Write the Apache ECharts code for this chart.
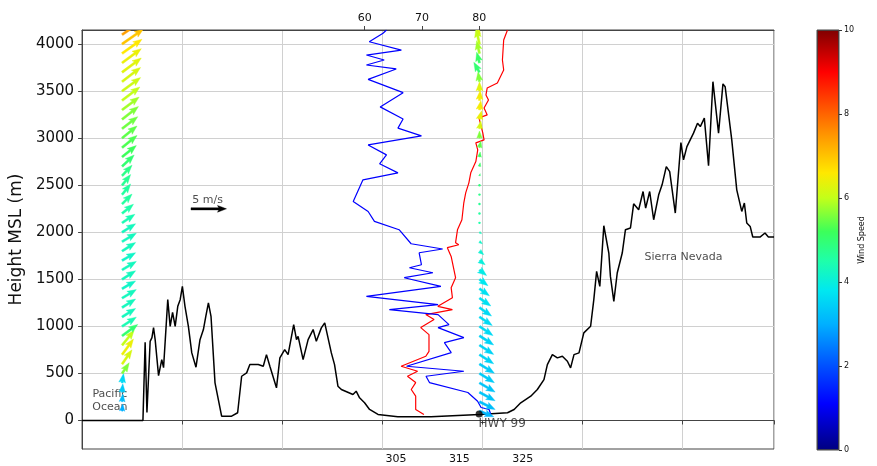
<!DOCTYPE html>
<html>
<head>
<meta charset="utf-8">
<title>Cross-section with soundings</title>
<script src="https://cdn.jsdelivr.net/npm/echarts@6/dist/echarts.min.js"></script>
<style>
  html, body { margin: 0; padding: 0; background: #fff; }
  #chart { width: 877px; height: 466px; }
</style>
</head>
<body>
<div id="chart"></div>
<script>
const FONT = 'DejaVu Sans';
const PX_PER_MS = 7.1;

// terrain profile: distance along section (km) and elevation (m)
const terrainDist = [0,30.4,31.0,31.5,32.4,34.0,34.9,35.7,36.5,38.2,
  39.8,40.7,42.8,44.0,45.2,46.5,47.8,49.0,50.1,51.4,
  53.1,54.8,56.9,58.9,60.6,61.8,63.1,64.4,66.4,69.7,
  74.7,77.7,79.7,82.2,83.8,88.0,90.5,92.1,93.8,97.1,
  98.8,101.2,102.9,105.7,107.1,107.9,110.4,112.9,115.4,117.0,
  119.5,121.2,124.5,126.1,127.8,129.5,135.3,136.9,138.6,141.1,
  143.6,147.8,157.7,174.3,198.4,212.5,215.8,219.1,224.1,227.4,
  230.7,232.4,234.9,237.4,239.9,242.4,244.0,245.7,248.2,250.6,
  254.0,255.6,257.0,258.6,260.6,263.1,263.9,265.6,267.3,269.8,
  271.4,273.9,275.5,278.0,280.2,281.5,283.5,285.5,288.0,289.7,
  291.8,293.5,296.3,299.1,300.4,302.1,305.4,307.4,308.8,310.8,
  312.9,315.1,317.9,320.1,321.2,324.5,327.0,329.5,330.8,332.0,
  333.7,335.0,338.6,341.1,342.8,345.6];
const terrainElev = [0,0,3,831,85,841,881,987,859,477,
  647,562,1284,1000,1149,1000,1213,1284,1425,1213,
  1000,718,566,859,966,1107,1249,1107,400,46,
  46,82,470,506,594,594,576,700,576,347,
  665,753,700,1019,859,894,647,859,966,841,
  984,1037,718,594,364,329,276,311,241,188,
  117,64,39,39,64,82,117,188,258,329,
  435,594,700,665,682,629,559,700,718,931,
  1001,1284,1584,1425,2069,1779,1531,1266,1567,1779,
  2027,2045,2302,2239,2433,2257,2433,2133,2398,2504,
  2698,2645,2204,2953,2769,2910,3053,3159,3123,3212,
  2706,3600,3053,3576,3547,2981,2451,2221,2310,2098,
  2062,1949,1949,1992,1949,1949];

// sounding: potential temperature (K) vs height (m)
const thetaHeight = [4149,4042,3830,3724,3586,3533,3459,3406,3321,3247,
  3215,3056,2981,2950,2875,2751,2631,2525,2419,2313,
  2133,2026,1889,1867,1836,1743,1517,1411,1305,1213,
  1178,1125,1072,987,912,735,682,576,523,470,
  403,329,258,117,64];
const thetaK = [322.6,322.0,321.8,322.0,321.0,319.4,319.2,319.6,318.9,319.4,
  318.1,318.7,318.9,317.6,317.9,317.6,316.8,316.5,316.0,315.7,
  315.4,314.7,314.4,314.9,313.1,313.7,314.4,313.7,313.9,311.6,
  313.9,309.7,311.0,308.9,310.2,310.2,309.7,305.8,308.4,306.8,
  308.1,307.4,308.1,308.1,309.4];

// sounding: relative humidity (%) vs height (m)
const rhHeight = [4149,4114,4024,3936,3918,3883,3830,3777,3735,3625,
  3483,3332,3204,3106,3024,2928,2822,2727,2631,2557,
  2327,2221,2115,2027,1878,1822,1782,1655,1623,1570,
  1517,1425,1319,1231,1178,1125,1019,987,881,828,
  721,576,523,470,403,297,205,138,117,64];
const rhPct = [63.8,63.2,60.8,66.4,66.7,60.3,63.4,60.3,65.5,60.6,
  66.7,62.7,66.7,65.8,69.9,60.6,63.8,62.6,65.8,59.7,
  58.0,60.6,61.7,66.0,68.1,73.6,69.5,69.9,67.8,71.9,
  66.9,73.3,60.3,72.8,64.3,72.8,74.7,72.8,77.3,73.9,
  75.1,67.3,77.3,70.7,71.3,78.0,79.7,80.3,81.7,82.0];

// wind profiles (m/s): horizontal / vertical arrow components and speed
const windHeight = [100,200,300,400,500,600,700,800,900,1000,
  1100,1200,1300,1400,1500,1600,1700,1800,1900,2000,
  2100,2200,2300,2400,2500,2600,2700,2800,2900,3000,
  3100,3200,3300,3400,3500,3600,3700,3800,3900,4000,4100];

const coastDist = 20;
const coastU = [0.1,0.1,0.1,0.2,1.0,1.4,1.6,1.7,2.2,2.0,
  1.9,1.9,2.0,1.9,1.9,2.0,1.9,1.9,2.0,1.9,
  1.8,1.6,1.4,1.2,1.2,1.4,1.7,2.0,2.1,2.1,
  2.2,2.3,2.4,2.5,2.6,2.6,2.7,2.7,2.8,3.0,3.1];
const coastW = [1.0,1.1,1.2,1.3,1.5,2.0,2.2,2.1,1.6,1.3,
  1.2,1.2,1.2,1.1,1.2,1.2,1.1,1.2,1.2,1.2,
  1.2,1.3,1.4,1.5,1.5,1.5,1.6,1.6,1.7,1.7,
  1.7,1.8,1.8,1.9,1.9,2.0,2.0,2.0,2.0,2.1,2.1];
const coastSpeed = [3.0,3.2,3.4,3.6,5.6,6.2,6.4,6.0,5.0,4.4,
  4.3,4.3,4.3,4.2,4.3,4.3,4.2,4.3,4.3,4.3,
  4.4,4.5,4.6,4.6,4.7,4.8,5.0,5.2,5.3,5.4,
  5.5,5.6,5.8,6.0,6.1,6.2,6.3,6.4,6.6,7.0,7.4];

const valleyDist = 198.5;
const valleyU = [2.0,2.2,2.2,2.2,2.1,2.1,2.0,2.0,2.0,1.9,
  1.8,1.7,1.6,1.4,1.2,1.0,0.8,0.6,0.4,0.3,
  0.2,0.1,0.05,0.05,0.05,0.1,0.1,0.1,0.2,0.0,
  0.2,0.3,0.2,0.1,0.0,-0.2,-0.8,-0.4,-0.4,-0.5,-0.6];
const valleyW = [-0.8,-1.1,-1.2,-1.3,-1.3,-1.3,-1.3,-1.3,-1.3,-1.3,
  -1.2,-1.2,-1.1,-1.0,-0.9,-0.8,-0.6,-0.5,-0.3,-0.2,
  -0.1,-0.05,0.05,0.1,0.15,0.3,0.5,0.7,0.9,1.0,
  1.1,1.2,1.3,1.4,1.3,1.4,1.4,1.5,1.8,2.2,2.6];
const valleySpeed = [3.1,3.2,3.3,3.3,3.4,3.4,3.5,3.5,3.5,3.6,
  3.6,3.6,3.7,3.7,3.8,3.9,4.0,4.1,4.2,4.3,
  4.5,4.6,4.7,4.8,4.9,5.0,5.1,5.2,5.4,5.6,
  6.2,6.4,6.5,6.5,6.3,5.6,5.0,5.1,5.8,6.0,6.2];

// reference arrow: 5 m/s
const keyArrow = [[54.4, 2249, 5, 0]];

const heightTicks = [0,500,1000,1500,2000,2500,3000,3500,4000];
const thetaTicks = [305,315,325];
const rhTicks = [60,70,80];

const notes = [
  { value: [13.9, 207], name: 'Pacific\nOcean' },
  { value: [300.4, 1737], name: 'Sierra Nevada' },
  { value: [62.7, 2345], name: '5 m/s' }
];
const hwy = [{ value: [198.3, 70], name: 'HWY 99' }];

// jet-like colour ramp for wind speed 0..10
const rampStops = [
  [0, [0,0,128]], [0.11, [0,0,255]], [0.2, [0,80,255]], [0.3, [0,176,255]],
  [0.38, [0,232,240]], [0.45, [30,255,170]], [0.52, [60,255,90]], [0.6, [195,255,25]],
  [0.66, [255,232,0]], [0.75, [255,150,0]], [0.82, [255,80,0]], [0.9, [255,0,0]], [1, [128,0,0]]
];
function speedColor(v) {
  const t = Math.max(0, Math.min(1, v / 10));
  for (let i = 1; i < rampStops.length; i++) {
    if (t <= rampStops[i][0]) {
      const a = rampStops[i - 1], b = rampStops[i];
      const f = (t - a[0]) / (b[0] - a[0]);
      const c = a[1].map((x, k) => Math.round(x + (b[1][k] - x) * f));
      return 'rgb(' + c.join(',') + ')';
    }
  }
  return 'rgb(128,0,0)';
}

function zip(a, b) { return a.map((v, i) => [v, b[i]]); }

const windRows = [];
windHeight.forEach((h, i) => {
  windRows.push([coastDist, h, coastU[i], coastW[i], coastSpeed[i]]);
  windRows.push([valleyDist, h, valleyU[i], valleyW[i], valleySpeed[i]]);
});

// quiver-style arrow, tail at the data point
function arrow(api, color) {
  const p = api.coord([api.value(0), api.value(1)]);
  const dx = api.value(2) * PX_PER_MS, dy = -api.value(3) * PX_PER_MS;
  const L = Math.hypot(dx, dy);
  if (L < 2) {
    return { type: 'circle', shape: { cx: p[0], cy: p[1], r: 1.2 }, style: { fill: color } };
  }
  const k = Math.min(1, L / 9);
  const sw = 1.1 * k, hw = 3.4 * k, hl = 9 * k, ha = 7.8 * k;
  const local = [[0, -sw], [L - ha, -sw], [L - hl, -hw], [L, 0], [L - hl, hw], [L - ha, sw], [0, sw]];
  const c = dx / L, s = dy / L;
  const pts = local.map(([x, y]) => [p[0] + x * c - y * s, p[1] + x * s + y * c]);
  return { type: 'polygon', shape: { points: pts }, style: { fill: color, stroke: color, lineWidth: 0.4 } };
}

const axisColor = '#444';
const gridColor = '#d0d0d0';

const chart = echarts.init(document.getElementById('chart'));
chart.setOption({
  animation: false,
  textStyle: { fontFamily: FONT },
  grid: [
    { left: 80, right: 103, top: 30, bottom: 17, show: true, borderColor: axisColor, borderWidth: 1 },
    { left: 817, width: 22, top: 30, height: 420, show: true, borderColor: '#333', borderWidth: 0.8 }
  ],
  xAxis: [
    { gridIndex: 0, type: 'value', min: 0, max: 345.6, interval: 50, position: 'bottom',
      axisLine: { lineStyle: { color: axisColor } },
      axisTick: { show: true, length: 4, lineStyle: { color: axisColor } },
      axisLabel: { show: false },
      splitLine: { show: true, lineStyle: { color: gridColor, width: 1 } } },
    { gridIndex: 0, type: 'value', min: 255.4, max: 364.7, position: 'bottom',
      axisLine: { show: false }, axisTick: { show: false },
      axisLabel: { customValues: thetaTicks, fontSize: 11, color: '#111', margin: 5 },
      splitLine: { show: false } },
    { gridIndex: 0, type: 'value', min: 10.7, max: 131.4, position: 'top',
      axisLine: { lineStyle: { color: axisColor } },
      axisTick: { customValues: rhTicks, length: 4, lineStyle: { color: axisColor } },
      axisLabel: { customValues: rhTicks, fontSize: 11, color: '#111', margin: 6 },
      splitLine: { show: false } },
    { gridIndex: 1, type: 'category', data: [''], show: false }
  ],
  yAxis: [
    { gridIndex: 0, type: 'value', min: -303, max: 4149,
      name: 'Height MSL (m)', nameLocation: 'middle', nameGap: 50,
      nameTextStyle: { fontSize: 17, color: '#111' },
      axisLine: { show: true, lineStyle: { color: axisColor } },
      axisTick: { show: true, customValues: heightTicks, length: 4, lineStyle: { color: axisColor } },
      axisLabel: { customValues: heightTicks, fontSize: 15, color: '#111', margin: 8,
        formatter: v => String(v) },
      splitLine: { show: true, lineStyle: { color: gridColor, width: 1 } } },
    { gridIndex: 1, type: 'value', min: 0, max: 10, interval: 2, position: 'right',
      name: 'Wind Speed', nameLocation: 'middle', nameRotate: 90, nameGap: 18,
      nameTextStyle: { fontSize: 8, color: '#111' },
      axisLine: { show: false },
      axisTick: { show: true, length: 3, lineStyle: { color: '#333' } },
      axisLabel: { fontSize: 8, color: '#111', margin: 5 },
      splitLine: { show: false } }
  ],
  series: [
    { name: 'colorbar', type: 'bar', xAxisIndex: 3, yAxisIndex: 1, data: [10], barWidth: '100%',
      silent: true,
      itemStyle: { color: new echarts.graphic.LinearGradient(0, 1, 0, 0,
        rampStops.map(s => ({ offset: s[0], color: 'rgb(' + s[1].join(',') + ')' }))),
        borderColor: '#333', borderWidth: 0.8 } },
    { name: 'terrain', type: 'line', xAxisIndex: 0, yAxisIndex: 0, data: zip(terrainDist, terrainElev),
      symbol: 'none', lineStyle: { color: '#000', width: 1.5 }, z: 3 },
    { name: 'theta', type: 'line', xAxisIndex: 1, yAxisIndex: 0, data: zip(thetaK, thetaHeight),
      symbol: 'none', lineStyle: { color: '#ff0000', width: 1.2 }, z: 3 },
    { name: 'rh', type: 'line', xAxisIndex: 2, yAxisIndex: 0, data: zip(rhPct, rhHeight),
      symbol: 'none', lineStyle: { color: '#0000ff', width: 1.2 }, z: 3 },
    { name: 'notes', type: 'scatter', xAxisIndex: 0, yAxisIndex: 0, data: notes, symbolSize: 1,
      itemStyle: { color: 'transparent' }, silent: true, z: 4,
      label: { show: true, position: 'inside', formatter: '{b}', fontSize: 11, lineHeight: 13, color: '#222' } },
    { name: 'wind', type: 'custom', xAxisIndex: 0, yAxisIndex: 0, data: windRows, clip: true, z: 5,
      renderItem: (params, api) => arrow(api, speedColor(api.value(4))) },
    { name: 'key', type: 'custom', xAxisIndex: 0, yAxisIndex: 0, data: keyArrow, z: 5,
      renderItem: (params, api) => arrow(api, '#000') },
    { name: 'hwy', type: 'scatter', xAxisIndex: 0, yAxisIndex: 0, data: hwy, symbolSize: 7, z: 6,
      itemStyle: { color: '#000' },
      label: { show: true, position: 'right', offset: [-9, 10], formatter: '{b}', fontSize: 12, color: '#222' } }
  ]
});
</script>
</body>
</html>
